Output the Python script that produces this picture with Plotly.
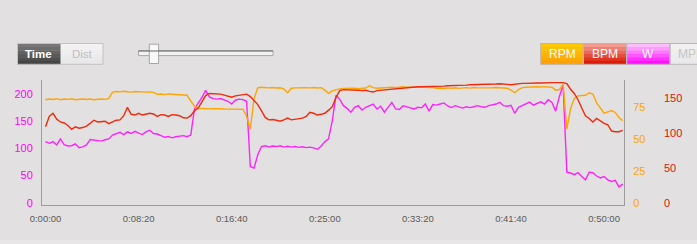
import plotly.graph_objects as go

# ---------------- data ----------------
TIME_S = list(range(0, 3101, 20))

RPM = [
    81.0, 81.5, 81.2, 81.8, 81.0, 81.5, 81.3, 81.7, 81.0, 81.4, 81.6, 81.2, 81.5, 81.0, 81.4, 81.6, 81.3, 82.0,
    87.0, 87.5, 87.2, 87.6, 87.3, 87.0, 87.4, 87.2, 87.5, 87.0, 87.2, 86.8,
    85.2, 85.5, 85.0, 85.6, 85.3, 85.1, 84.8, 85.0, 84.5, 80.0, 76.0,
    74.3, 74.0, 74.2, 73.8, 74.0, 74.1, 73.9, 73.7, 73.8, 73.5, 73.6, 73.4,
    73.5, 68.0, 58.0, 82.0, 90.3, 90.8, 90.5, 90.3, 90.6, 90.2, 90.4, 89.5, 86.5,
    90.0, 90.3, 90.5, 90.2, 90.4, 90.3, 90.6, 90.2, 90.5, 88.5, 86.0, 88.0, 89.0,
    89.5, 89.8, 90.0, 89.8, 90.0, 89.7, 90.0, 90.2, 92.0, 90.5, 90.0, 90.3, 90.6,
    90.4, 90.8, 90.5, 91.0, 91.2, 90.8, 90.9, 91.0, 90.7, 91.0, 90.8, 90.6, 90.7,
    90.0, 90.2, 89.8, 90.3, 90.0, 90.4, 89.9, 90.2, 90.5, 90.1, 90.6, 90.3, 90.2,
    90.5, 90.0, 90.4, 90.6, 90.3, 90.2, 90.0, 88.5, 86.5, 89.0, 90.5, 90.8, 91.0,
    90.7, 91.2, 91.0, 91.3, 91.0, 90.8, 88.5, 89.0, 93.0,
    58.0, 74.0, 82.0, 84.0, 84.5, 84.5, 86.5, 85.5, 78.5, 74.5, 70.5, 71.5, 72.5,
    71.0, 67.0, 64.5,
]

BPM = [
    109, 124, 128.5, 120, 116, 114.5, 111, 105.5, 109, 107, 108, 110, 114, 118.5,
    116, 116.5, 117, 113.5, 116, 118.5, 119, 125, 137, 127, 126, 128.5, 126, 127,
    128.5, 127.5, 124, 126.5, 126, 124, 126.5, 126, 125, 122, 121.5, 125, 132, 136,
    146, 154, 157, 157, 157, 156, 154.5, 153, 151.5, 153.5, 154,
    155, 156, 152.5, 147, 141, 132, 122.5, 119, 119.5, 118.5, 117, 119, 121.5, 119,
    120, 120, 121.5, 124, 130, 128.5, 126, 127, 128.5, 133, 138, 151, 161, 162.5,
    162.5, 162, 161.5, 161.5, 161, 161.5, 160, 159, 161, 161.5, 162, 163, 163.5,
    164.5, 165, 165.5, 165.5, 166, 166, 166.5, 166.5, 166.5, 167, 167,
    167, 167.5, 167.5, 168, 168, 168.5, 168.5, 169, 169, 169.5, 169.5, 170, 170,
    170, 170.5, 170.5, 170.5, 171, 171, 170, 169.5, 170.5, 171.5, 171.5, 171.5,
    172, 172, 172, 172, 172.5, 172.5, 172.5, 172.5, 172.5, 172.5,
    171, 163, 157, 148, 136, 125, 121, 116, 121, 117, 114, 112, 103, 102, 102, 104,
]

WATTS = [
    112, 109, 112, 106, 117, 106.5, 104, 104.5, 108, 101, 102.5, 106, 116, 115,
    113.5, 113, 115.5, 117, 124, 126, 129, 125, 130, 127, 131, 127.5, 125, 130,
    133, 127, 126, 123, 120, 121.5, 119, 121, 122, 123, 121, 124, 172, 182, 193,
    206, 194, 191, 190, 191, 188, 186, 181, 188, 190,
    189, 186, 66, 63.5, 88, 103, 104.5, 102.5, 104, 103, 104.5, 102, 103.5, 102,
    103, 101.5, 102.5, 101, 102, 100.5, 98, 103.5, 112, 117, 150, 197, 190, 178,
    173, 166, 175, 178, 170, 175, 178, 181, 172, 177, 166, 176, 184, 172, 171,
    178, 176, 174, 172, 175, 174, 181, 168, 180,
    179, 181, 183, 177.5, 174.5, 178, 175.5, 173.5, 176, 174.5, 176, 178, 176,
    175, 178, 179, 181, 184, 178, 177, 178.5, 164, 175, 178, 182, 184.5, 179,
    182, 185, 181, 189, 184, 168, 195, 216,
    56, 54.5, 51.5, 55, 48, 42, 56, 55, 49, 45.5, 48, 42, 39, 41, 29, 34,
]

X_TICK_VALUES = [0, 500, 1000, 1500, 2000, 2500, 3000]
X_TICK_LABELS = ["0:00:00", "0:08:20", "0:16:40", "0:25:00", "0:33:20", "0:41:40", "0:50:00"]
W_TICKS = [0, 50, 100, 150, 200]
RPM_TICKS = [0, 25, 50, 75]
BPM_TICKS = [0, 50, 100, 150]

# ---------------- styling ----------------
WIDTH, HEIGHT = 697, 244
BG = "#e2e0e0"
FONT = "Liberation Sans, Arial, Helvetica, sans-serif"
C_RPM = "#ffa500"
C_BPM = "#f02a0a"
C_W = "#ff22ff"
AXIS_LINE = "#9c9c9c"


def px(x):
    return x / WIDTH


def py(y):
    return 1 - y / HEIGHT


fig = go.Figure()
fig.add_trace(go.Scatter(x=TIME_S, y=RPM, mode="lines", yaxis="y2",
                         line=dict(color=C_RPM, width=1.4), hoverinfo="skip"))
fig.add_trace(go.Scatter(x=TIME_S, y=BPM, mode="lines", yaxis="y3",
                         line=dict(color=C_BPM, width=1.4), hoverinfo="skip"))
fig.add_trace(go.Scatter(x=TIME_S, y=WATTS, mode="lines", yaxis="y",
                         line=dict(color=C_W, width=1.4), hoverinfo="skip"))

shapes = []
annotations = []


def rect(x0, y0, x1, y1, fill, line=None, lw=1):
    shapes.append(dict(type="rect", xref="paper", yref="paper",
                       x0=px(x0), x1=px(x1), y0=py(y1), y1=py(y0),
                       fillcolor=fill,
                       line=dict(color=line or fill, width=lw if line else 0),
                       layer="below"))


def grad_rect(x0, y0, x1, y1, top, bottom, n=6):
    def hx(c):
        c = c.lstrip("#")
        return [int(c[i:i + 2], 16) for i in (0, 2, 4)]
    a, b = hx(top), hx(bottom)
    h = (y1 - y0) / n
    for i in range(n):
        f = i / (n - 1)
        col = "rgb(%d,%d,%d)" % tuple(round(a[k] + (b[k] - a[k]) * f) for k in range(3))
        rect(x0, y0 + i * h, x1, y0 + (i + 1) * h + 0.3, col)


def label(x, y, text, color, size=11.5, bold=False):
    annotations.append(dict(xref="paper", yref="paper", x=px(x), y=py(y),
                            text=("<b>%s</b>" % text) if bold else text,
                            showarrow=False, xanchor="center", yanchor="middle",
                            font=dict(family=FONT, size=size, color=color)))


# bottom strip
rect(0, 240, WIDTH, HEIGHT, "#e8e6e6")

# Time / Dist toggle
grad_rect(17.5, 43.5, 60.7, 64.3, "#777777", "#454545")
grad_rect(60.7, 43.5, 103, 64.3, "#f3f3f3", "#e8e8e8")
shapes.append(dict(type="rect", xref="paper", yref="paper", x0=px(17.5), x1=px(103),
                   y0=py(64.3), y1=py(43.5), line=dict(color="#c2c2c2", width=1)))
label(38.8, 54, "Time", "#ffffff", 11.5, True)
label(82, 54, "Dist", "#bdbdbd", 11.5)

# slider
rect(138.5, 50.8, 273, 55.6, "#f2f2f2", "#a8a8a8", 1)
shapes.append(dict(type="line", xref="paper", yref="paper", x0=px(138.5), x1=px(273),
                   y0=py(51), y1=py(51), line=dict(color="#666666", width=1)))
rect(149.3, 44.2, 158.6, 63.5, "#f8f8f8", "#a6a6a6", 1)

# series buttons
grad_rect(540.7, 43.5, 583.3, 64.3, "#ffc800", "#ffa000")
grad_rect(583.3, 43.5, 626.7, 64.3, "#f49a90", "#dc1a08")
grad_rect(626.7, 43.5, 670, 64.3, "#ffbcff", "#ff10ff")
grad_rect(670, 43.5, 713, 64.3, "#f2f2f2", "#e9e9e9")
for x0, x1 in [(540.7, 583.3), (583.3, 626.7), (626.7, 670), (670, 713)]:
    shapes.append(dict(type="rect", xref="paper", yref="paper", x0=px(x0), x1=px(x1),
                       y0=py(64.3), y1=py(43.5), line=dict(color="#b8b8b8", width=1)))
label(562, 54, "RPM", "#ffffff", 12)
label(605, 54, "BPM", "#ffffff", 12)
label(648.3, 54, "W", "#ffffff", 12)
label(691.5, 54, "MPH", "#c4c4c4", 12)

fig.update_layout(
    width=WIDTH, height=HEIGHT,
    margin=dict(l=0, r=0, t=0, b=0, autoexpand=False),
    paper_bgcolor=BG, plot_bgcolor=BG,
    showlegend=False,
    shapes=shapes, annotations=annotations,
    xaxis=dict(domain=[px(42), px(624)], range=[-19, 3107], automargin=False,
               tickvals=X_TICK_VALUES, ticktext=X_TICK_LABELS,
               showgrid=False, zeroline=False, showline=True,
               linecolor=AXIS_LINE, linewidth=1, ticks="",
               ticklabelstandoff=5,
               tickfont=dict(family=FONT, size=9.5, color="#5a5a5a")),
    yaxis=dict(domain=[py(205), py(80)], range=[-4.2, 225.1], automargin=False,
               tickvals=W_TICKS, showgrid=False, zeroline=False,
               showline=True, linecolor=AXIS_LINE, linewidth=1, ticks="",
               ticklabelstandoff=6,
               tickfont=dict(family=FONT, size=11, color="#ff00ff")),
    yaxis2=dict(overlaying="y", side="right", anchor="x", range=[-1.8, 96.5],
                automargin=False,
                tickvals=RPM_TICKS, showgrid=False, zeroline=False,
                showline=True, linecolor=AXIS_LINE, linewidth=1, ticks="",
                ticklabelstandoff=6,
                tickfont=dict(family=FONT, size=11, color="#ffa500")),
    yaxis3=dict(overlaying="y", side="right", anchor="free", position=px(659),
                automargin=False,
                range=[-3.3, 176.3], tickvals=BPM_TICKS, showgrid=False,
                zeroline=False, showline=False, ticks="",
                ticklabelstandoff=4,
                tickfont=dict(family=FONT, size=11, color="#e01010")),
)

fig.write_html("out.html")
